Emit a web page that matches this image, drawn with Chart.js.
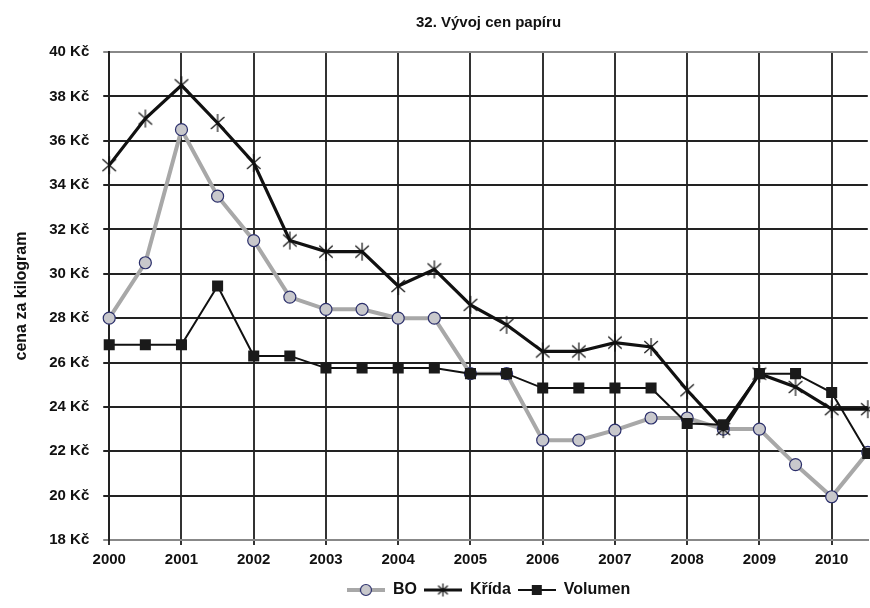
<!DOCTYPE html>
<html>
<head>
<meta charset="utf-8">
<script src="https://cdn.jsdelivr.net/npm/chart.js@4/dist/chart.umd.min.js"></script>
<style>
  html, body { margin: 0; padding: 0; background: #fff; overflow: hidden; }
  #wrap { width: 880px; height: 608px; }
</style>
</head>
<body>
<div id="wrap"><canvas id="lineChartDiv"></canvas></div>
<script>
// roky na ose x, body jsou po pul roce
var years = ["2000", "2001", "2002", "2003", "2004", "2005", "2006", "2007", "2008", "2009", "2010"];

var boData = [28.0, 30.5, 36.5, 33.5, 31.5, 28.95, 28.4, 28.4, 28.0, 28.0, 25.5,
	25.5, 22.5, 22.5, 22.95, 23.5, 23.5, 23.0, 23.0, 21.4, 19.95, 21.95];
var kridaData = [34.9, 37.0, 38.5, 36.8, 35.0, 31.5, 31.0, 31.0, 29.45, 30.2, 28.6,
	27.7, 26.5, 26.5, 26.9, 26.7, 24.75, 23.0, 25.5, 24.9, 23.9, 23.9];
var volumenData = [26.8, 26.8, 26.8, 29.45, 26.3, 26.3, 25.75, 25.75, 25.75, 25.75, 25.5,
	25.5, 24.85, 24.85, 24.85, 24.85, 23.25, 23.2, 25.5, 25.5, 24.65, 21.9];

var labels = [];
years.forEach(function(y) {
	labels.push(y);
	labels.push(y + ".5");
});

var FONT = "'Liberation Sans', Arial, Helvetica, sans-serif";

// hvezdicka jako v Excelu (X + svisla cara)
function starMarker(size) {
	var c = document.createElement("canvas");
	c.width = size; c.height = size;
	var g = c.getContext("2d");
	var m = size / 2, r = size / 2 - 1;
	g.strokeStyle = "#111";
	g.lineWidth = 1.2;
	g.beginPath();
	g.moveTo(m - r * 0.75, m - r * 0.66); g.lineTo(m + r * 0.75, m + r * 0.66);
	g.moveTo(m - r * 0.75, m + r * 0.66); g.lineTo(m + r * 0.75, m - r * 0.66);
	g.moveTo(m, m - r); g.lineTo(m, m + r);
	g.stroke();
	return c;
}

function legendSample(kind) {
	var c = document.createElement("canvas");
	c.width = 38; c.height = 16;
	var g = c.getContext("2d");
	g.beginPath();
	g.moveTo(0, 8); g.lineTo(38, 8);
	if (kind === "bo") { g.strokeStyle = "#a8a8a8"; g.lineWidth = 4; }
	else if (kind === "krida") { g.strokeStyle = "#111"; g.lineWidth = 3; }
	else { g.strokeStyle = "#111"; g.lineWidth = 2; }
	g.stroke();
	if (kind === "bo") {
		g.beginPath();
		g.arc(19, 8, 5.5, 0, Math.PI * 2);
		g.fillStyle = "#c8c8cc"; g.fill();
		g.strokeStyle = "#2b2f6b"; g.lineWidth = 1.2; g.stroke();
	} else if (kind === "krida") {
		g.drawImage(starMarker(15), 11.5, 0.5);
	} else {
		g.fillStyle = "#1a1a1a";
		g.fillRect(14, 3, 10, 10);
	}
	return c;
}

var star = starMarker(20);

var ctx = document.getElementById("lineChartDiv");
var lineChart = new Chart(ctx, {
	type: "line",
	data: {
		labels: labels,
		datasets: [
		{
			label: "BO",
			data: boData,
			order: 3,
			borderColor: "#a8a8a8",
			borderWidth: 4,
			pointStyle: "circle",
			pointRadius: 6,
			pointBackgroundColor: "#c8c8cc",
			pointBorderColor: "#2b2f6b",
			pointBorderWidth: 1.2,
			lineTension: 0,
			fill: false
		},
		{
			label: "Křída",
			data: kridaData,
			order: 2,
			borderColor: "#111",
			borderWidth: 3.2,
			pointStyle: star,
			pointRadius: 9,
			lineTension: 0,
			fill: false
		},
		{
			label: "Volumen",
			data: volumenData,
			order: 1,
			borderColor: "#111",
			borderWidth: 2,
			pointStyle: "rect",
			pointRadius: 7.8,
			pointBackgroundColor: "#1a1a1a",
			pointBorderColor: "#1a1a1a",
			pointBorderWidth: 0,
			lineTension: 0,
			fill: false
		}]
	},
	options: {
		responsive: true,
		maintainAspectRatio: false,
		animation: false,
		layout: { padding: { left: 12, right: 8, top: 0, bottom: 0 } },
		plugins: {
			title: {
				display: true,
				text: "32. Vývoj cen papíru",
				fullSize: false,
				color: "#111",
				font: { family: FONT, size: 15, weight: "bold" },
				padding: { top: 14, bottom: 20 }
			},
			legend: {
				position: "bottom",
				fullSize: false,
				labels: {
					usePointStyle: true,
					pointStyleWidth: 38,
					color: "#111",
					font: { family: FONT, size: 16, weight: "bold" },
					padding: 7,
					generateLabels: function(chart) {
						var kinds = ["bo", "krida", "volumen"];
						return chart.data.datasets.map(function(ds, i) {
							return {
								text: ds.label,
								pointStyle: legendSample(kinds[i]),
								fillStyle: "transparent",
								strokeStyle: "transparent",
								lineWidth: 0,
								fontColor: "#111",
								datasetIndex: i,
								hidden: false
							};
						});
					}
				}
			},
			tooltip: { enabled: false }
		},
		scales: {
			x: {
				grid: {
					color: function(c) { return c.index % 2 === 0 ? "#333" : "transparent"; },
					lineWidth: 2,
					tickLength: 5
				},
				border: { color: "#888", width: 2 },
				ticks: {
					autoSkip: false,
					maxRotation: 0,
					color: "#111",
					font: { family: FONT, size: 15, weight: "bold" },
					padding: 6,
					callback: function(v, i) { return i % 2 === 0 ? labels[i] : ""; }
				}
			},
			y: {
				min: 18,
				max: 40,
				grid: {
					color: function(c) {
						var v = c.tick ? c.tick.value : null;
						return (v === 40 || v === 18) ? "#888" : "#222";
					},
					lineWidth: 2,
					tickLength: 6
				},
				border: { color: "#222", width: 2 },
				ticks: {
					stepSize: 2,
					color: "#111",
					font: { family: FONT, size: 15, weight: "bold" },
					padding: 14,
					callback: function(v) { return v + " Kč"; }
				},
				title: {
					display: true,
					text: "cena za kilogram",
					color: "#111",
					font: { family: FONT, size: 16, weight: "bold" },
					padding: { top: 0, bottom: 4 }
				}
			}
		}
	}
});
</script>
</body>
</html>
